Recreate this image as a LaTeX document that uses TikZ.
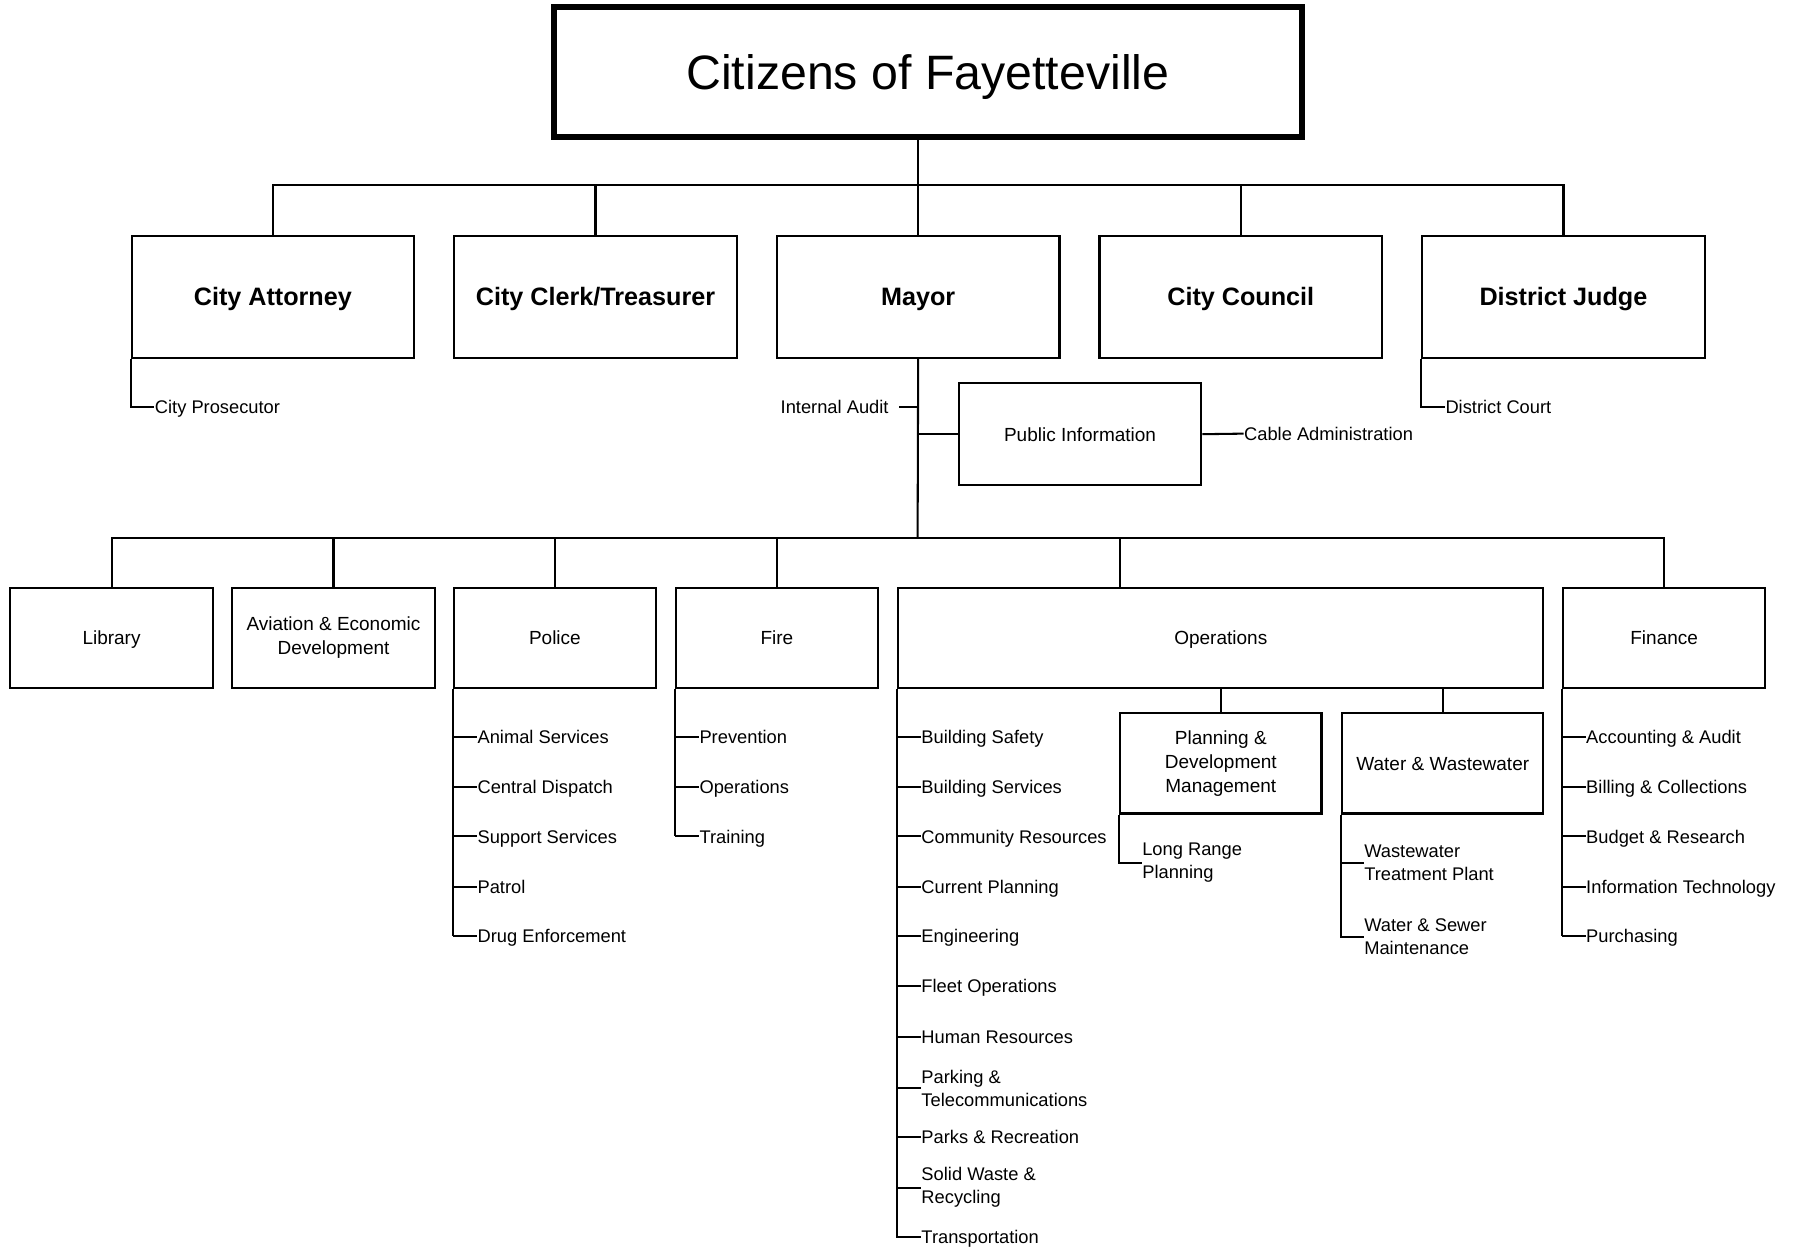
\documentclass[tikz,border=0pt]{standalone}
\usepackage{fontspec}
\setmainfont{Liberation Sans}
\newcommand\orgbox[7]{\node[#2, minimum width={(#5-#3)*0.5pt}, minimum height={(#6-#4)*0.5pt}] (#1) at ({(#3+#5)/2},{(#4+#6)/2}) {#7};}
\begin{document}
\begin{tikzpicture}[x=0.5pt,y=-0.5pt,
  ln/.style={line width=0.9pt},
  mbox/.style={draw, line width=0.9pt, inner sep=0pt, align=center, font=\fontsize{8.3}{10.5}\selectfont},
  box/.style={mbox, text height=6pt, text depth=0pt},
  hbox/.style={mbox, text height=7.9pt, text depth=0pt, font=\bfseries\fontsize{11}{13}\selectfont},
  topbox/.style={draw, line width=2.5pt, inner sep=0pt, text height=15.2pt, text depth=0pt, font=\fontsize{21.1}{26}\selectfont},
  lbl/.style={anchor=west, inner sep=0pt, text height=5.8pt, text depth=0pt, font=\fontsize{8}{10}\selectfont},
  lbltwo/.style={anchor=west, inner sep=0pt, align=left, font=\fontsize{8}{10}\selectfont},
]
\useasboundingbox (0,0) rectangle (1568,1091);

% top
\orgbox{top}{topbox}{484}{6}{1138}{120}{Citizens of Fayetteville}

% second level
\orgbox{att}{hbox}{115}{206}{362}{313}{City Attorney}
\orgbox{clerk}{hbox}{397}{206}{644}{313}{City Clerk/Treasurer}
\orgbox{mayor}{hbox}{679}{206}{926}{313}{Mayor}
\orgbox{council}{hbox}{961}{206}{1208}{313}{City Council}
\orgbox{judge}{hbox}{1243}{206}{1490}{313}{District Judge}

\coordinate (bus1) at (802,162);
\draw[ln] (top.south -| mayor.north) -- (mayor.north);
\draw[ln] (att.north) |- (bus1) -| (judge.north);
\draw[ln] (clerk.north) -- (clerk.north |- bus1);
\draw[ln] (council.north) -- (council.north |- bus1);

% City Attorney / District Judge
\node[lbl] (cp) at (135,356) {City Prosecutor};
\draw[ln] (att.south west) |- (cp.west);
\node[lbl] (dc) at (1263,356) {District Court};
\draw[ln] (judge.south west) |- (dc.west);

% Mayor staff
\coordinate (bus2) at (802,470);
\draw[ln] (mayor.south) -- (bus2);
\node[lbl, anchor=east] (ia) at (777,356) {Internal Audit};
\coordinate (iaend) at (786,356);
\draw[ln] (iaend) -- (iaend -| mayor.south);
\orgbox{pub}{box}{838}{335}{1050}{424}{Public Information}
\draw[ln] (pub.west -| mayor.south) -- (pub.west);
\node[lbl] (cable) at (1087,379) {Cable Administration};
\draw[ln] (pub.east) -- (cable.west);

% third level
\orgbox{lib}{box}{9}{514}{186}{601}{Library}
\orgbox{avi}{mbox}{203}{514}{380}{601}{Aviation \& Economic\\Development}
\orgbox{police}{box}{397}{514}{573}{601}{Police}
\orgbox{fire}{box}{591}{514}{767}{601}{Fire}
\orgbox{ops}{box}{785}{514}{1349}{601}{Operations}
\orgbox{fin}{box}{1366}{514}{1543}{601}{Finance}

\draw[ln] (lib.north) |- (bus2) -| (fin.north);
\draw[ln] (avi.north) -- (avi.north |- bus2);
\draw[ln] (police.north) -- (police.north |- bus2);
\draw[ln] (fire.north) -- (fire.north |- bus2);
\coordinate (opsdrop) at (979,514);
\draw[ln] (opsdrop) -- (opsdrop |- bus2);

% Police
\foreach \t/\y [count=\i] in {Animal Services/644,Central Dispatch/688,Support Services/731,Patrol/775,Drug Enforcement/818}{
  \node[lbl] (pol\i) at (417,\y) {\t};
  \draw[ln] (pol\i.west -| police.west) -- (pol\i.west);}
\draw[ln] (police.south west) -- (pol5.west -| police.west);

% Fire
\foreach \t/\y [count=\i] in {Prevention/644,Operations/688,Training/731}{
  \node[lbl] (fir\i) at (611,\y) {\t};
  \draw[ln] (fir\i.west -| fire.west) -- (fir\i.west);}
\draw[ln] (fire.south west) -- (fir3.west -| fire.west);

% Finance
\foreach \t/\y [count=\i] in {Accounting \& Audit/644,Billing \& Collections/688,Budget \& Research/731,Information Technology/775,Purchasing/818}{
  \node[lbl] (fn\i) at (1386,\y) {\t};
  \draw[ln] (fn\i.west -| fin.west) -- (fn\i.west);}
\draw[ln] (fin.south west) -- (fn5.west -| fin.west);

% Operations list
\foreach \t/\y [count=\i] in {Building Safety/644,Building Services/688,Community Resources/731,Current Planning/775,Engineering/818,Fleet Operations/862,Human Resources/906}{
  \node[lbl] (op\i) at (805,\y) {\t};
  \draw[ln] (op\i.west -| ops.west) -- (op\i.west);}
\node[lbltwo] (op8) at (805,951) {Parking \&\\Telecommunications};
\draw[ln] (op8.west -| ops.west) -- (op8.west);
\node[lbl] (op9) at (805,994) {Parks \& Recreation};
\draw[ln] (op9.west -| ops.west) -- (op9.west);
\node[lbltwo] (op10) at (805,1038) {Solid Waste \&\\Recycling};
\draw[ln] (op10.west -| ops.west) -- (op10.west);
\node[lbl] (op11) at (805,1081) {Transportation};
\draw[ln] (ops.south west) |- (op11.west);

% Operations sub-boxes
\orgbox{pdm}{mbox}{979}{623}{1155}{711}{Planning \&\\Development\\Management}
\orgbox{ww}{box}{1173}{623}{1349}{711}{Water \& Wastewater}
\draw[ln] (ops.south) -- (pdm.north);
\draw[ln] (ww.north) -- (ww.north |- ops.south);

\node[lbltwo] (lrp) at (998,754) {Long Range\\Planning};
\draw[ln] (pdm.south west) |- (lrp.west);
\node[lbltwo] (ww1) at (1192,754) {Wastewater\\Treatment Plant};
\node[lbltwo] (ww2) at (1192,819) {Water \& Sewer\\Maintenance};
\draw[ln] (ww1.west -| ww.west) -- (ww1.west);
\draw[ln] (ww.south west) |- (ww2.west);
\end{tikzpicture}
\end{document}
